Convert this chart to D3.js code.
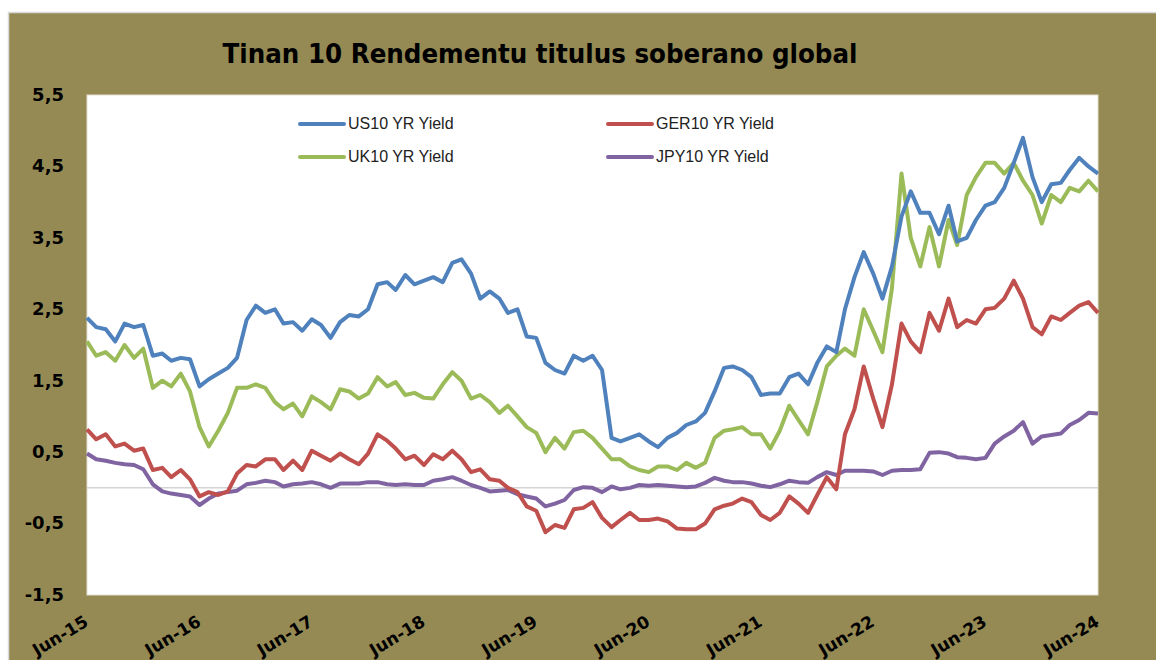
<!DOCTYPE html>
<html>
<head>
<meta charset="utf-8">
<script src="https://cdn.jsdelivr.net/npm/d3@7"></script>
<style>
  body { margin: 0; background: #fff; }
</style>
</head>
<body>
<div id="chart"></div>
<script>
// monthly observations, Jun-15 .. Jun-24
var months = d3.timeMonth.range(new Date(2015, 5, 1), new Date(2024, 6, 1));

var us10 = [2.38,2.25,2.22,2.05,2.30,2.25,2.28,1.85,1.88,1.78,1.82,1.80,
  1.42,1.52,1.60,1.68,1.82,2.35,2.55,2.45,2.50,2.30,2.32,2.20,
  2.36,2.28,2.10,2.32,2.42,2.40,2.50,2.85,2.88,2.77,2.98,2.85,
  2.90,2.95,2.88,3.15,3.20,3.00,2.65,2.75,2.65,2.45,2.50,2.12,
  2.10,1.75,1.65,1.60,1.85,1.78,1.85,1.65,0.70,0.65,0.70,0.75,
  0.65,0.57,0.70,0.77,0.88,0.93,1.05,1.35,1.68,1.70,1.65,1.55,
  1.30,1.32,1.32,1.55,1.60,1.45,1.75,1.98,1.90,2.50,2.95,3.30,
  3.00,2.65,3.10,3.80,4.15,3.85,3.85,3.55,3.95,3.45,3.50,3.75,
  3.95,4.00,4.20,4.55,4.90,4.35,4.00,4.25,4.27,4.45,4.62,4.50,4.40];

var ger10 = [0.82,0.68,0.75,0.58,0.62,0.52,0.55,0.25,0.28,0.15,0.25,0.12,
  -0.12,-0.06,-0.10,-0.05,0.20,0.32,0.30,0.40,0.40,0.25,0.38,0.25,
  0.52,0.45,0.38,0.48,0.40,0.33,0.48,0.75,0.66,0.55,0.40,0.45,
  0.32,0.47,0.40,0.52,0.40,0.22,0.26,0.12,0.10,0.00,-0.06,-0.26,
  -0.32,-0.62,-0.52,-0.56,-0.30,-0.28,-0.20,-0.42,-0.55,-0.45,-0.35,-0.45,
  -0.45,-0.43,-0.47,-0.57,-0.58,-0.58,-0.50,-0.30,-0.25,-0.22,-0.15,-0.20,
  -0.38,-0.45,-0.35,-0.12,-0.22,-0.35,-0.10,0.15,-0.02,0.75,1.10,1.70,
  1.25,0.85,1.45,2.30,2.05,1.90,2.45,2.20,2.65,2.25,2.35,2.30,
  2.50,2.52,2.65,2.90,2.65,2.25,2.15,2.40,2.35,2.45,2.55,2.60,2.45];

var uk10 = [2.05,1.85,1.90,1.78,2.00,1.82,1.95,1.40,1.50,1.42,1.60,1.35,
  0.85,0.58,0.80,1.05,1.40,1.40,1.45,1.40,1.20,1.10,1.18,1.00,
  1.28,1.20,1.10,1.38,1.35,1.25,1.32,1.55,1.42,1.48,1.30,1.33,
  1.26,1.25,1.45,1.62,1.50,1.25,1.30,1.20,1.05,1.15,1.00,0.85,
  0.77,0.50,0.70,0.55,0.78,0.80,0.70,0.55,0.40,0.40,0.30,0.25,
  0.22,0.30,0.30,0.25,0.35,0.28,0.35,0.70,0.80,0.82,0.85,0.75,
  0.75,0.55,0.80,1.15,0.95,0.75,1.20,1.70,1.85,1.95,1.85,2.50,
  2.20,1.90,2.80,4.40,3.50,3.10,3.65,3.10,3.75,3.40,4.10,4.35,
  4.55,4.55,4.40,4.55,4.30,4.10,3.70,4.10,4.00,4.20,4.15,4.30,4.15];

var jpy10 = [0.48,0.40,0.38,0.35,0.33,0.32,0.26,0.05,-0.05,-0.08,-0.10,-0.12,
  -0.24,-0.15,-0.08,-0.06,-0.04,0.05,0.07,0.10,0.08,0.02,0.05,0.06,
  0.08,0.05,0.00,0.06,0.06,0.06,0.08,0.08,0.05,0.04,0.05,0.04,
  0.04,0.10,0.12,0.15,0.10,0.04,0.00,-0.05,-0.04,-0.03,-0.09,-0.12,
  -0.15,-0.26,-0.22,-0.17,-0.03,0.01,0.00,-0.06,0.02,-0.02,0.00,0.04,
  0.03,0.04,0.03,0.02,0.01,0.02,0.07,0.14,0.10,0.08,0.08,0.06,
  0.03,0.01,0.05,0.10,0.08,0.07,0.15,0.22,0.18,0.24,0.24,0.24,
  0.23,0.18,0.24,0.25,0.25,0.26,0.49,0.50,0.48,0.43,0.42,0.40,
  0.42,0.62,0.72,0.80,0.92,0.62,0.72,0.74,0.76,0.88,0.95,1.05,1.04];

var seriesNames = ["US10 YR Yield", "GER10 YR Yield", "UK10 YR Yield", "JPY10 YR Yield"];
var seriesColors = ["#4F81BD", "#C0504D", "#9BBB59", "#8064A2"];
var seriesValues = [us10, ger10, uk10, jpy10];

var yTicks = [-1.5, -0.5, 0.5, 1.5, 2.5, 3.5, 4.5, 5.5];
var yTickLabels = ["-1,5", "-0,5", "0,5", "1,5", "2,5", "3,5", "4,5", "5,5"];
var xTickYears = [2015, 2016, 2017, 2018, 2019, 2020, 2021, 2022, 2023, 2024];
var xTickLabels = ["Jun-15", "Jun-16", "Jun-17", "Jun-18", "Jun-19", "Jun-20", "Jun-21", "Jun-22", "Jun-23", "Jun-24"];

var W = 1156, H = 660;
var plot = {left: 87, top: 95, right: 1098, bottom: 595};

var svg = d3.select("#chart")
  .append("svg")
    .attr("width", W)
    .attr("height", H);

// chart background + light border
svg.append("rect")
  .attr("x", 8.5).attr("y", 12.5)
  .attr("width", W).attr("height", H)
  .attr("fill", "#958A54")
  .attr("stroke", "#D9D9D9")
  .attr("stroke-width", 1.5);

// plot area
svg.append("rect")
  .attr("x", plot.left).attr("y", plot.top)
  .attr("width", plot.right - plot.left)
  .attr("height", plot.bottom - plot.top)
  .attr("fill", "#fff")
  .attr("stroke", "#E3E0D4")
  .attr("stroke-width", 1);

var x = d3.scaleTime()
  .domain([months[0], months[months.length - 1]])
  .range([plot.left, plot.right]);

var y = d3.scaleLinear()
  .domain([-1.5, 5.5])
  .range([plot.bottom, plot.top]);

// zero line
svg.append("line")
  .attr("x1", plot.left).attr("x2", plot.right)
  .attr("y1", y(0)).attr("y2", y(0))
  .attr("stroke", "#D4D4D4")
  .attr("stroke-width", 1.5);

// title
svg.append("text")
  .attr("x", 540).attr("y", 63)
  .attr("text-anchor", "middle")
  .attr("font-family", "DejaVu Sans, sans-serif")
  .attr("font-weight", "bold")
  .attr("font-size", 27)
  .attr("textLength", 635)
  .attr("lengthAdjust", "spacingAndGlyphs")
  .attr("fill", "#000")
  .text("Tinan 10 Rendementu titulus soberano global");

// y axis
var yAxis = svg.append("g")
  .attr("transform", "translate(" + (plot.left - 20) + ",0)")
  .call(d3.axisLeft(y)
    .tickValues(yTicks)
    .tickSize(0)
    .tickFormat(function(d, i) { return yTickLabels[i]; }));
yAxis.select(".domain").remove();
yAxis.selectAll("text")
  .attr("font-family", "DejaVu Sans, sans-serif")
  .attr("font-weight", "bold")
  .attr("font-size", 18)
  .attr("fill", "#000")
  .attr("dy", "0.3em");

// x axis
var xTickDates = xTickYears.map(function(yr) { return new Date(yr, 5, 1); });
var xAxis = svg.append("g")
  .attr("transform", "translate(0," + plot.bottom + ")")
  .call(d3.axisBottom(x)
    .tickValues(xTickDates)
    .tickSize(0)
    .tickFormat(function(d, i) { return xTickLabels[i]; }));
xAxis.select(".domain").remove();
xAxis.selectAll("text")
  .attr("font-family", "DejaVu Sans, sans-serif")
  .attr("font-weight", "bold")
  .attr("font-size", 17)
  .attr("fill", "#000")
  .attr("text-anchor", "end")
  .attr("dy", 0)
  .attr("y", 0)
  .attr("transform", "translate(2,30) rotate(-31)");

// lines
var line = d3.line()
  .x(function(d, i) { return x(months[i]); })
  .y(function(d) { return y(d); });

// draw in order so GER/JPY sit under US/UK like the original
var drawOrder = [3, 1, 2, 0];
drawOrder.forEach(function(k) {
  svg.append("path")
    .datum(seriesValues[k])
    .attr("fill", "none")
    .attr("stroke", seriesColors[k])
    .attr("stroke-width", 4)
    .attr("stroke-linejoin", "round")
    .attr("d", line);
});

// legend
var legendPos = [[300, 124], [608, 124], [300, 157], [608, 157]];
var legend = svg.append("g");
seriesNames.forEach(function(name, k) {
  var p = legendPos[k];
  legend.append("line")
    .attr("x1", p[0]).attr("x2", p[0] + 44)
    .attr("y1", p[1]).attr("y2", p[1])
    .attr("stroke", seriesColors[k])
    .attr("stroke-width", 4)
    .attr("stroke-linecap", "round");
  legend.append("text")
    .attr("x", p[0] + 48).attr("y", p[1] + 5)
    .attr("font-family", "Liberation Sans, Arial, sans-serif")
    .attr("font-size", 16)
    .attr("fill", "#222")
    .text(name);
});
</script>
</body>
</html>
